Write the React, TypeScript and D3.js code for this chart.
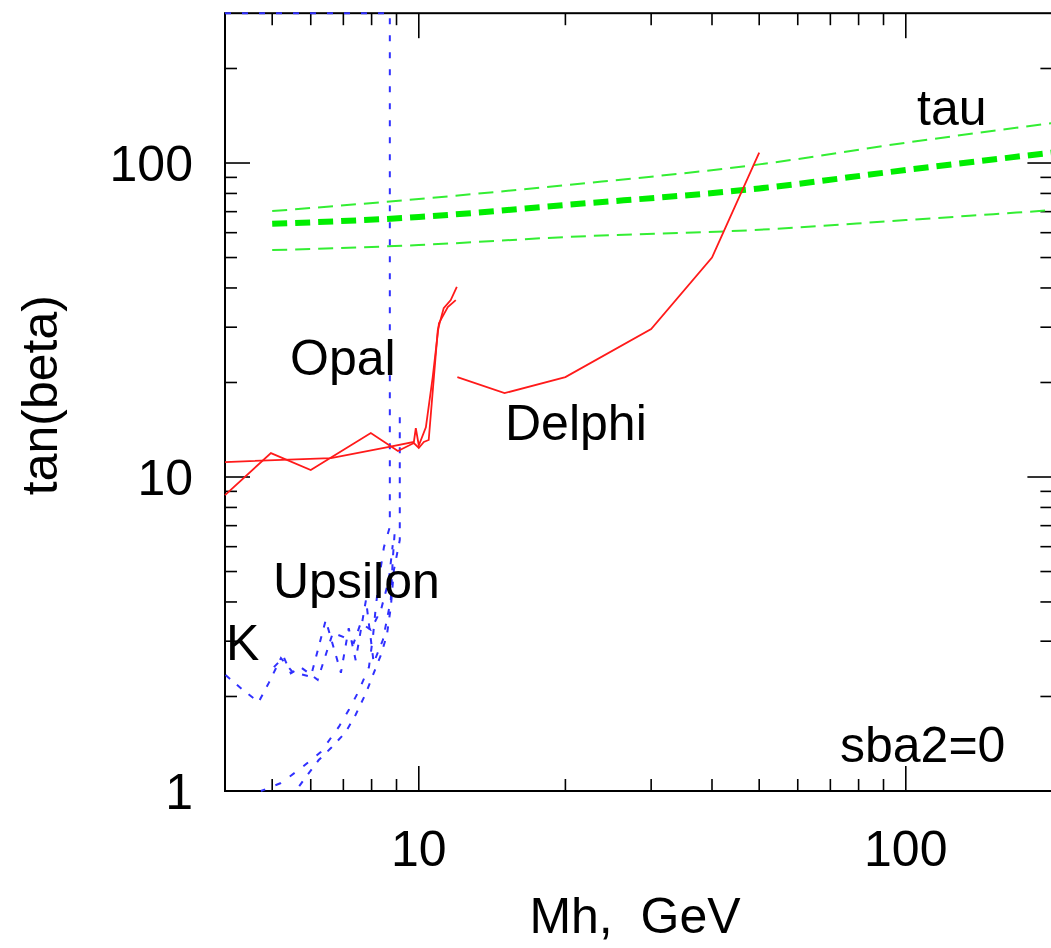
import React from "react";
import * as d3 from "d3";

// ---- data ----
const tauMh = [5, 10, 20, 50, 100, 200];
const tauUpper = [70.3, 76.8, 85, 99, 116, 134];
const tauCentral = [64, 67.3, 73.5, 83, 95, 108];
const tauLower = [52.8, 54.8, 58.1, 61.3, 65.8, 70.8];

const opal1Mh = [4.0, 4.97, 6.0, 7.97, 9.06, 9.77, 10.0, 10.24, 10.48, 10.94, 11.25, 11.63, 11.97];
const opal1Tb = [8.76, 11.92, 10.53, 13.81, 12.1, 12.83, 12.37, 12.93, 13.12, 29.4, 34.5, 36.6, 40.3];
const opal2Mh = [4.0, 6.6, 8.64, 9.77, 9.86, 10.0, 10.34, 10.68, 11.0, 11.47, 11.91];
const opal2Tb = [11.16, 11.49, 12.46, 12.93, 14.3, 12.6, 14.4, 20.8, 30.9, 34.8, 36.6];

const delphiMh = [12.0, 15.0, 20.0, 30.0, 40.0, 50.0];
const delphiTb = [20.8, 18.5, 20.8, 29.6, 50.0, 108];

const ups1Mh = [4.0, 8.72, 8.72, 8.48, 8.28, 8.16, 8.05, 7.9, 7.49, 7.18, 6.85, 6.29, 5.72, 5.21, 4.74];
const ups1Tb = [300, 300, 6.93, 5.98, 4.7, 3.85, 3.09, 2.48, 2.05, 1.81, 1.6, 1.33, 1.18, 1.06, 1.0];
const ups2Mh = [9.14, 9.14, 8.89, 8.76, 8.6, 8.36, 8.05, 7.79, 7.42, 7.08, 6.6, 6.23, 5.86, 5.59];
const ups2Tb = [15.5, 6.3, 5.06, 3.85, 3.14, 2.71, 2.34, 2.05, 1.75, 1.54, 1.37, 1.255, 1.108, 1.0];
const ups3Mh = [4.01, 4.35, 4.69, 4.92, 5.21, 5.51, 6.0, 6.44, 6.92, 7.18, 7.42, 7.79, 8.08, 8.44, 8.76, 8.84, 8.93];
const ups3Tb = [2.34, 2.1, 1.92, 2.21, 2.65, 2.39, 2.31, 3.5, 2.38, 3.3, 2.61, 4.06, 2.56, 3.03, 4.06, 5.44, 6.78];
const ups4Mh = [5.04, 5.28, 5.46, 5.72, 6.2, 6.66, 7.01, 7.35, 7.6, 7.97, 8.36, 8.68, 8.84];
const ups4Tb = [2.48, 2.67, 2.37, 2.48, 2.26, 3.19, 3.09, 2.96, 3.43, 3.26, 3.77, 4.7, 6.07];

const xDomain = [4, 200];
const yDomain = [1, 300];
const xMajor = [10, 100];
const xMinor = [5, 6, 7, 8, 9, 20, 30, 40, 50, 60, 70, 80, 90, 200];
const yMajor = [1, 10, 100];
const yMinor = [2, 3, 4, 5, 6, 7, 8, 9, 20, 30, 40, 50, 60, 70, 80, 90, 200];
const xTickLabels = ["10", "100"];
const yTickLabels = ["1", "10", "100"];

const W = 1051;
const H = 948;
const left = 225;
const top = 13.2;
const bottom = 791;
const right = 225 + 487 * Math.log10(50);

const FONT = "'Liberation Sans', Arial, Helvetica, sans-serif";

export default function App() {
  const x = d3.scaleLog().domain(xDomain).range([left, right]);
  const y = d3.scaleLog().domain(yDomain).range([bottom, top]);

  const mk = (xs: number[], ys: number[]) => xs.map((v, i) => [v, ys[i]] as [number, number]);
  const line = d3.line<[number, number]>().x((d) => x(d[0])).y((d) => y(d[1]));
  const smooth = d3
    .line<[number, number]>()
    .x((d) => x(d[0]))
    .y((d) => y(d[1]))
    .curve(d3.curveMonotoneX);

  const MAJ = 25;
  const MIN = 12;

  return (
    <svg width={W} height={H} style={{ position: "absolute", left: 0, top: 0, background: "#fff" }}>
      <defs>
        <clipPath id="plot">
          <rect x={left - 2} y={top - 2} width={right - left + 4} height={bottom - top + 4} />
        </clipPath>
      </defs>
      {/* frame */}
      <rect x={left} y={top} width={right - left} height={bottom - top} fill="none" stroke="#000" strokeWidth={2} />
      {/* ticks */}
      <g stroke="#000" strokeWidth={1.6}>
        {xMajor.map((v) => (
          <g key={"xM" + v}>
            <line x1={x(v)} x2={x(v)} y1={bottom} y2={bottom - MAJ} />
            <line x1={x(v)} x2={x(v)} y1={top} y2={top + MAJ} />
          </g>
        ))}
        {xMinor.map((v) => (
          <g key={"xm" + v}>
            <line x1={x(v)} x2={x(v)} y1={bottom} y2={bottom - MIN} />
            <line x1={x(v)} x2={x(v)} y1={top} y2={top + MIN} />
          </g>
        ))}
        {yMajor.map((v) => (
          <g key={"yM" + v}>
            <line x1={left} x2={left + MAJ} y1={y(v)} y2={y(v)} />
            <line x1={right} x2={right - MAJ} y1={y(v)} y2={y(v)} />
          </g>
        ))}
        {yMinor.map((v) => (
          <g key={"ym" + v}>
            <line x1={left} x2={left + MIN} y1={y(v)} y2={y(v)} />
            <line x1={right} x2={right - MIN} y1={y(v)} y2={y(v)} />
          </g>
        ))}
      </g>
      {/* tick labels */}
      <g fontFamily={FONT} fontSize={50} fill="#000">
        {xMajor.map((v, i) => (
          <text key={"xl" + v} x={x(v)} y={866} textAnchor="middle">
            {xTickLabels[i]}
          </text>
        ))}
        {yMajor.map((v, i) => (
          <text key={"yl" + v} x={193} y={y(v) + 18} textAnchor="end">
            {yTickLabels[i]}
          </text>
        ))}
      </g>
      {/* axis titles */}
      <text x={635} y={933} fontFamily={FONT} fontSize={50} textAnchor="middle" style={{ whiteSpace: "pre" }}>
        {"Mh,  GeV"}
      </text>
      <text
        transform={`translate(57,${(top + bottom) / 2 - 7}) rotate(-90)`}
        fontFamily={FONT}
        fontSize={50}
        textAnchor="middle"
      >
        tan(beta)
      </text>
      {/* curves */}
      <g clipPath="url(#plot)" fill="none">
        <path d={smooth(mk(tauMh, tauUpper)) || ""} stroke="#33ee33" strokeWidth={2} strokeDasharray="15,8" />
        <path d={smooth(mk(tauMh, tauLower)) || ""} stroke="#33ee33" strokeWidth={2} strokeDasharray="15,8" />
        <path d={smooth(mk(tauMh, tauCentral)) || ""} stroke="#00ee00" strokeWidth={6} strokeDasharray="15,8" />

        <path d={line(mk(ups1Mh, ups1Tb)) || ""} stroke="#3030ff" strokeWidth={2} strokeDasharray="6,11" />
        <path d={line(mk(ups2Mh, ups2Tb)) || ""} stroke="#3030ff" strokeWidth={2} strokeDasharray="6,9" />
        <path d={line(mk(ups3Mh, ups3Tb)) || ""} stroke="#3030ff" strokeWidth={2} strokeDasharray="6,9" />
        <path d={line(mk(ups4Mh, ups4Tb)) || ""} stroke="#3030ff" strokeWidth={2} strokeDasharray="6,9" />

        <path d={line(mk(opal1Mh, opal1Tb)) || ""} stroke="#ff1a1a" strokeWidth={1.8} />
        <path d={line(mk(opal2Mh, opal2Tb)) || ""} stroke="#ff1a1a" strokeWidth={1.8} />
        <path d={line(mk(delphiMh, delphiTb)) || ""} stroke="#ff1a1a" strokeWidth={1.8} />
      </g>
      {/* annotations */}
      <g fontFamily={FONT} fontSize={50} fill="#000">
        <text x={917} y={125}>tau</text>
        <text x={290} y={375}>Opal</text>
        <text x={505} y={440}>Delphi</text>
        <text x={273} y={598}>Upsilon</text>
        <text x={226} y={660}>K</text>
        <text x={840} y={762}>sba2=0</text>
      </g>
    </svg>
  );
}
